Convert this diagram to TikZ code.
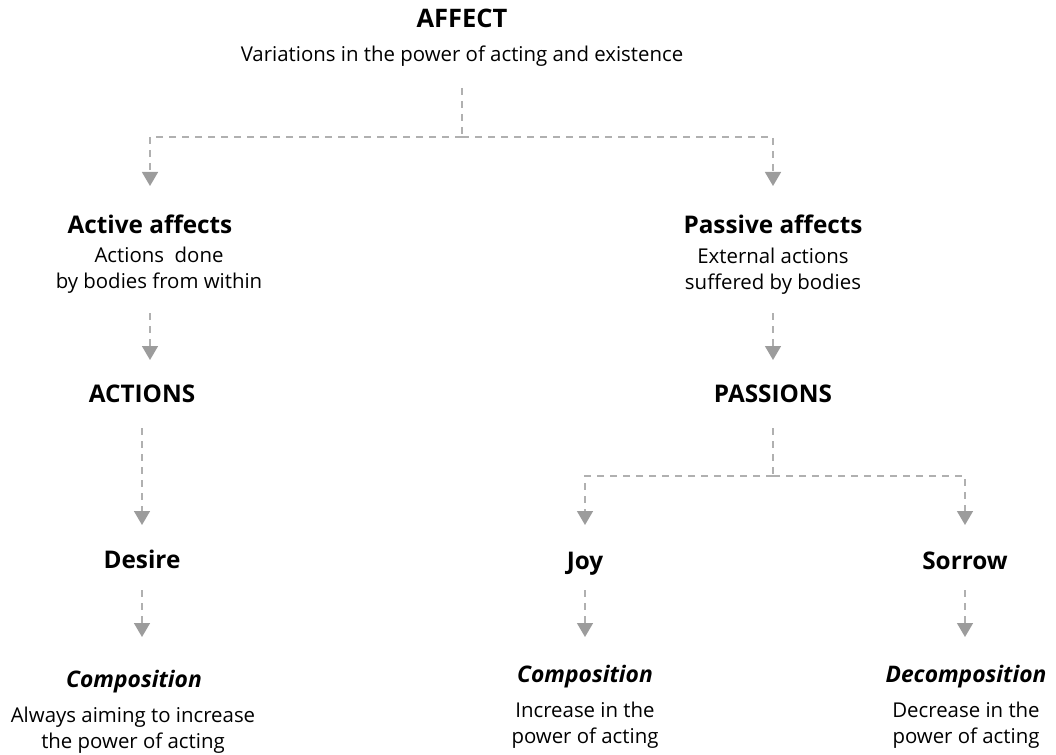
\documentclass[tikz,border=0pt]{standalone}
\usepackage{fontspec}
\setmainfont{Open Sans}
\usetikzlibrary{arrows.meta,calc}
\definecolor{lineclr}{HTML}{B0B0B0}
\definecolor{tipclr}{HTML}{9C9C9C}
\begin{document}
\begin{tikzpicture}[x=1pt,y=-1pt,
  every node/.style={inner sep=0pt,anchor=base,align=center,text=black},
  bigtitle/.style={font=\fontsize{25.5}{30}\selectfont\bfseries},
  headtitle/.style={font=\fontsize{24.3}{30}\selectfont\bfseries},
  emtitle/.style={font=\fontsize{22.8}{28}\selectfont\bfseries\itshape},
  desc/.style={font=\fontsize{20.4}{26}\selectfont},
  dline/.style={draw=lineclr,line width=1.5pt,dash pattern=on 7pt off 6pt},
  conn/.style={dline,-{Triangle[width=16pt,length=14pt,color=tipclr]}}
]
\useasboundingbox (0,0) rectangle (1056,754);

% top level
\node[bigtitle] (affect) at (462,28) {AFFECT};
\node[desc] (affsub) at (462,62) {Variations in the power of acting and existence};

% second level (multi-line nodes sit on the baseline of their last line)
\node[headtitle] (act) at (150,233) {Active affects};
\node[desc] (actdesc) at (159,288) {Actions\ \ done\\by bodies from within};
\node[headtitle] (pas) at (773,233) {Passive affects};
\node[desc] (pasdesc) at (773,289) {External actions\\suffered by bodies};

% third level
\node[headtitle] (actions) at (142,402) {ACTIONS};
\node[headtitle] (passions) at (773,402) {PASSIONS};

% fourth level
\node[headtitle] (desire) at (142,568) {Desire};
\node[headtitle] (joy) at (585,569) {Joy};
\node[headtitle] (sorrow) at (965,569) {Sorrow};

% outcomes
\node[emtitle] (compa) at (134,687) {Composition};
\node[desc] (compadesc) at (133,748) {Always aiming to increase\\the power of acting};
\node[emtitle] (compb) at (585,682) {Composition};
\node[desc] (compbdesc) at (585,743) {Increase in the\\power of acting};
\node[emtitle] (decomp) at (966,682) {Decomposition};
\node[desc] (decompdesc) at (966,743) {Decrease in the\\power of acting};

% branch points
\coordinate (j1) at ($(affsub.base)+(0,75)$);
\coordinate (j2) at ($(passions.base)+(0,74)$);

% connectors
\draw[dline] ($(affsub.base)+(0,26)$) -- (j1);
\draw[conn] (j1) -| ($(act.base)+(0,-47)$);
\draw[conn] (j1) -| ($(pas.base)+(0,-47)$);

\draw[conn] ($(act.base |- actdesc.base)+(0,25)$) -- ($(act.base |- actions.base)+(0,-42)$);
\draw[conn] ($(pasdesc.base)+(0,24)$) -- ($(passions.base)+(0,-42)$);

\draw[conn] ($(actions.base)+(0,26)$) -- ($(desire.base)+(0,-43)$);
\draw[dline] ($(passions.base)+(0,26)$) -- (j2);
\draw[conn] (j2) -| ($(joy.base)+(0,-44)$);
\draw[conn] (j2) -| ($(sorrow.base)+(0,-44)$);

\draw[conn] ($(desire.base)+(0,22)$) -- ($(compa.base)+(8,-50)$);
\draw[conn] ($(joy.base)+(0,21)$) -- ($(compb.base)+(0,-45)$);
\draw[conn] ($(sorrow.base)+(0,21)$) -- ($(decomp.base)+(-1,-45)$);
\end{tikzpicture}
\end{document}
